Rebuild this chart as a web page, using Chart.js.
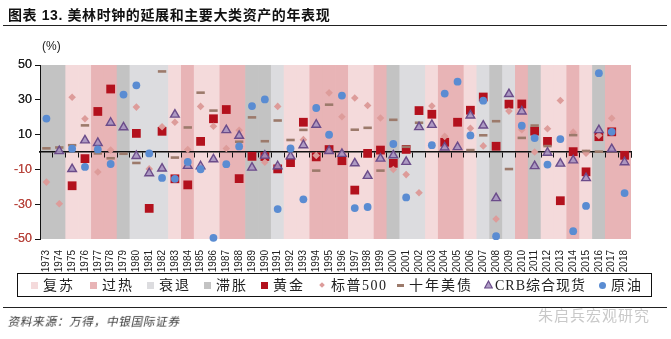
<!DOCTYPE html>
<html>
<head>
<meta charset="utf-8">
<script src="https://cdn.jsdelivr.net/npm/chart.js@4/dist/chart.umd.min.js"></script>
<style>
  html, body { margin: 0; padding: 0; background: #fff; }
  #wrap { position: relative; width: 671px; height: 339px; overflow: hidden; }
  #c { position: absolute; left: 0; top: 0; }
  .title { position: absolute; left: 8px; top: 4px; font: bold 14px "Liberation Sans", "Noto Sans CJK SC", sans-serif; color: #111; letter-spacing: 0.6px; white-space: nowrap; }
  .rule { position: absolute; left: 3px; right: 4px; height: 0; border-top: 1.5px solid #222; }
  .unit { position: absolute; left: 42px; top: 39px; font: 12px "Liberation Sans", Arial, sans-serif; color: #222; }
  .legend { position: absolute; left: 17px; top: 273px; width: 635px; height: 24px; border: 1px solid #111; box-sizing: border-box; }
  .li { position: absolute; top: 3px; font: 14px "Liberation Serif", "Noto Sans CJK SC", serif; color: #222; white-space: nowrap; letter-spacing: 2px; line-height: 17px; }
  .mk { position: absolute; }
  .source { position: absolute; left: 7px; top: 313px; font: 11.5px "Noto Sans CJK SC", sans-serif; color: #333; transform: skewX(-12deg); transform-origin: left bottom; white-space: nowrap; letter-spacing: 0.8px; }
  .mark { position: absolute; left: 538px; top: 304px; font: 15px "Noto Sans CJK SC", sans-serif; color: #c9c9c9; white-space: nowrap; letter-spacing: 1px; }
</style>
</head>
<body>
<div id="wrap">
  <canvas id="c" width="671" height="339"></canvas>
  <div class="title">图表 13. 美林时钟的延展和主要大类资产的年表现</div>
  <div class="rule" style="top:25px"></div>
  <div class="unit">(%)</div>
  <div class="legend" id="legend"></div>
  <div class="rule" style="top:307px"></div>
  <div class="source">资料来源：万得，中银国际证券</div>
  <div class="mark">朱启兵宏观研究</div>
</div>
<script>
// Calendar years on the category axis
const years = ['1973','1974','1975','1976','1977','1978','1979','1980','1981','1982',
  '1983','1984','1985','1986','1987','1988','1989','1990','1991','1992',
  '1993','1994','1995','1996','1997','1998','1999','2000','2001','2002',
  '2003','2004','2005','2006','2007','2008','2009','2010','2011','2012',
  '2013','2014','2015','2016','2017','2018'];

// Investment-clock phase of each year (background band)
const phases = ['滞胀','滞胀','复苏','复苏','过热','过热','滞胀','衰退','衰退','衰退',
  '复苏','过热','复苏','复苏','过热','过热','滞胀','滞胀','衰退','复苏',
  '复苏','过热','过热','过热','复苏','复苏','过热','滞胀','衰退','衰退',
  '复苏','过热','过热','复苏','衰退','滞胀','衰退','过热','滞胀','复苏',
  '复苏','过热','复苏','滞胀','过热','过热'];

// Annual returns (%); null where the value lies outside the -50..50 range shown
const gold = [null, null, -19.4, -3.8, 23.3, 36.2, null, 10.7, -32.4, 11.9,
  -15.4, -18.9, 6.1, 19.1, 24.4, -15.3, -2.5, -2.6, -9.7, -6.1,
  17.1, -2.8, 1.4, -5.0, -21.9, -0.8, 1.1, -6.5, 1.5, 23.8,
  21.7, 5.6, 17.1, 24.0, 31.6, 3.3, 27.5, 27.6, 12.0, 6.1,
  -28.0, 0.2, -11.4, 8.8, 11.6, -1.9];

const sp500 = [-17.3, -29.7, 31.5, 19.1, -11.5, 1.1, null, 25.8, -9.7, 14.5,
  17.1, 1.4, 26.2, 14.8, 2.0, 12.5, null, -5.9, 26.2, null,
  7.1, -2.0, 34.0, 20.3, 31.0, 26.7, 19.5, -10.1, -13.0, -23.4,
  26.4, 9.0, null, 13.6, 3.5, -38.5, 23.5, 12.8, 0.0, 13.4,
  29.6, 11.4, -0.7, 9.5, 19.4, null];

const treasury10y = [2.1, 2.6, 3.9, 15.3, -0.8, -3.6, -1.0, -6.3, null, 46.3,
  -3.2, 14.1, 34.1, 23.8, null, 5.9, 19.9, 6.2, 18.1, 6.9,
  12.7, -10.7, 27.2, null, 12.8, 13.9, -10.7, 18.5, 3.0, 16.8,
  null, null, null, 1.1, 9.6, 17.7, -9.8, 8.1, 15.2, 3.4,
  null, 9.7, 0.6, 0.2, null, null];

const crb = [null, 0.5, -9.8, 6.7, 5.2, 16.8, 14.2, -2.3, -12.2, -9.5,
  21.5, -8.0, -8.2, -4.2, 12.6, 9.3, -9.0, -2.1, -8.2, -2.5,
  3.9, 15.7, 0.6, -1.1, -6.5, -13.7, -3.8, -1.9, -5.7, 14.3,
  15.6, 2.6, 2.8, 21.0, 15.2, -26.5, 33.3, 23.3, -8.1, -0.4,
  -6.7, -4.8, -15.0, 12.6, 1.7, -5.9];

const crude = [19.2, null, 1.9, -8.6, 1.5, -6.9, 33.0, 38.3, -0.8, -14.9,
  -15.4, -5.7, -9.9, -49.3, -7.0, 3.2, 26.4, 30.2, -32.8, 2.0,
  -27.2, 25.3, 9.9, 32.4, -32.2, -31.6, null, 4.6, -26.1, null,
  3.9, 33.6, 40.4, 9.5, 29.5, -48.4, null, 15.1, 8.0, -7.2,
  7.4, -45.5, -31.0, 45.3, 11.6, -23.6];

// Value-axis tick labels
const yTicks = [50, 30, 10, -10, -30, -50];

const phaseColors = { '复苏': '#f4dadb', '过热': '#e8b4b6', '衰退': '#dcdcdf', '滞胀': '#c3c3c3' };

const C = {
  gold: '#b3111d',
  sp: '#dd9c9a',
  tsy: '#9c7a6b',
  crbFill: 'rgba(166,146,192,0.9)',
  crbLine: '#6b4c8a',
  oil: '#5a8cd2'
};

const yMin = Math.min(...yTicks), yMax = Math.max(...yTicks);

// Repaint axes right after the phase bands so they sit above the bands but under the markers
const axesOverBands = {
  id: 'axesOverBands',
  afterDatasetDraw(chart, args) {
    if (args.index !== 0) return;
    chart.scales.y.draw(chart.chartArea);
    chart.scales.xZero.draw(chart.chartArea);
  }
};

const markerSet = (label, data, style, extra) => Object.assign({
  type: 'line', label, data, showLine: false, clip: false,
  pointStyle: style, pointHoverRadius: 0
}, extra);

new Chart(document.getElementById('c'), {
  type: 'bar',
  data: {
    labels: years,
    datasets: [
      {
        label: 'phase', data: years.map(() => [yMin, yMax]),
        backgroundColor: phases.map(p => phaseColors[p]),
        borderWidth: 0, barPercentage: 1, categoryPercentage: 1, order: 10
      },
      markerSet('黄金', gold, 'rect', { pointRadius: 6.2, pointBackgroundColor: C.gold, pointBorderColor: C.gold, pointBorderWidth: 0, order: 5 }),
      markerSet('标普500', sp500, 'rectRot', { pointRadius: 3.8, pointBackgroundColor: C.sp, pointBorderColor: C.sp, pointBorderWidth: 0, order: 4 }),
      markerSet('十年美债', treasury10y, 'line', { pointRadius: 4.2, pointBorderColor: C.tsy, pointBackgroundColor: C.tsy, pointBorderWidth: 2.6, order: 3 }),
      markerSet('CRB综合现货', crb, 'triangle', { pointRadius: 5, pointBackgroundColor: C.crbFill, pointBorderColor: C.crbLine, pointBorderWidth: 1.4, order: 2 }),
      markerSet('原油', crude, 'circle', { pointRadius: 3.9, pointBackgroundColor: C.oil, pointBorderColor: C.oil, pointBorderWidth: 0, order: 1 })
    ]
  },
  options: {
    responsive: false,
    animation: false,
    events: [],
    layout: { padding: { left: 0, right: 40, top: 65, bottom: 0 } },
    plugins: { legend: { display: false }, tooltip: { enabled: false } },
    scales: {
      x: {
        offset: true,
        grid: { display: false },
        border: { display: false },
        ticks: {
          autoSkip: false, minRotation: 90, maxRotation: 90, padding: 3,
          color: '#222', font: { family: 'Liberation Sans, Arial, sans-serif', size: 10 }
        },
        afterFit: s => { s.height = 100; }
      },
      xZero: {
        axis: 'x', type: 'category', position: { y: 0 }, offset: true,
        grid: { offset: true, drawOnChartArea: false, drawTicks: true, tickLength: 5, color: '#111', lineWidth: 1 },
        border: { display: true, color: '#111', width: 1.5 },
        ticks: { display: false }
      },
      y: {
        min: yMin, max: yMax,
        afterBuildTicks: s => { s.ticks = yTicks.map(v => ({ value: v })); },
        grid: { drawOnChartArea: false, drawTicks: true, tickLength: 5, color: '#111' },
        border: { display: true, color: '#111', width: 1 },
        ticks: {
          padding: 3,
          color: ctx => (ctx.tick.value < 0 ? '#b8463e' : '#222'),
          font: { family: 'Liberation Sans, Arial, sans-serif', size: 12.5 }
        },
        afterFit: s => { s.width = 40; }
      }
    }
  },
  plugins: [axesOverBands]
});

// Boxed legend: phase swatches followed by the asset markers
const legendItems = [
  { text: '复苏', x: 30, sp: 2, mk: `<div class="mk" style="left:0;top:5px;width:7px;height:7px;background:${phaseColors['复苏']}"></div>` },
  { text: '过热', x: 89, sp: 2, mk: `<div class="mk" style="left:0;top:5px;width:7px;height:7px;background:${phaseColors['过热']}"></div>` },
  { text: '衰退', x: 146, sp: 2, mk: `<div class="mk" style="left:0;top:5px;width:7px;height:7px;background:${phaseColors['衰退']}"></div>` },
  { text: '滞胀', x: 203, sp: 2, mk: `<div class="mk" style="left:0;top:5px;width:7px;height:7px;background:${phaseColors['滞胀']}"></div>` },
  { text: '黄金', x: 260, sp: 2, mk: `<div class="mk" style="left:0;top:5px;width:7px;height:7px;background:${C.gold}"></div>` },
  { text: '标普500', x: 318, sp: 1.5, mk: `<div class="mk" style="left:1px;top:6px;width:4px;height:4px;background:${C.sp};transform:rotate(45deg)"></div>` },
  { text: '十年美债', x: 396, sp: 2, mk: `<div class="mk" style="left:0;top:7px;width:7px;height:2.5px;background:${C.tsy}"></div>` },
  { text: 'CRB综合现货', x: 483, sp: 1, mk: `<svg class="mk" style="left:0;top:3px" width="9" height="9"><polygon points="4.5,1 8.3,8 0.7,8" fill="${C.crbFill}" stroke="${C.crbLine}" stroke-width="1.2"/></svg>` },
  { text: '原油', x: 598, sp: 2, mk: `<div class="mk" style="left:0;top:5px;width:7px;height:7px;border-radius:50%;background:${C.oil}"></div>` }
];
const legendEl = document.getElementById('legend');
legendItems.forEach(it => {
  const d = document.createElement('div');
  d.className = 'li';
  d.style.left = (it.x - 17) + 'px';
  d.style.letterSpacing = it.sp + 'px';
  d.innerHTML = it.mk + `<span style="margin-left:${it.text.startsWith('CRB') ? 11 : 12}px">${it.text}</span>`;
  legendEl.appendChild(d);
});
</script>
</body>
</html>
